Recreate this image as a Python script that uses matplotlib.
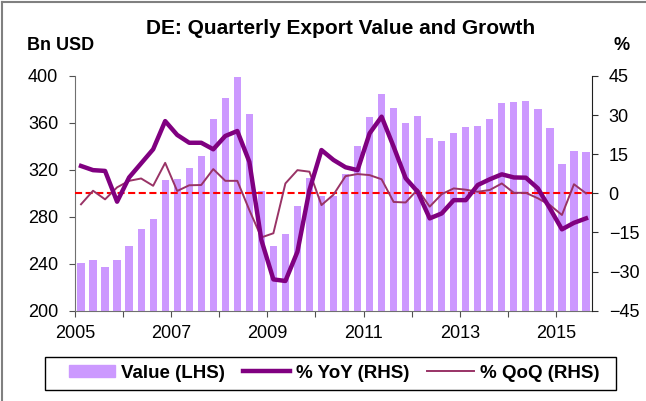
import matplotlib
matplotlib.use("Agg")
import matplotlib.pyplot as plt
import matplotlib.patches as mpatches
from matplotlib.lines import Line2D
import numpy as np

plt.rcParams['font.family'] = ['Liberation Sans', 'DejaVu Sans']

# quarterly data, 2005Q1 .. 2015Q3
value = [241, 243, 237, 243.5, 255.5, 270, 278, 311, 312.5, 322, 332, 363.5,
         381, 399, 367.5, 302, 255.5, 265.5, 289.5, 313, 298, 298, 316.5, 340.5,
         365, 384.5, 372.5, 360, 366, 347, 345, 351.5, 356.5, 357.5, 363.5, 377,
         378, 379, 371.5, 356, 325, 336.5, 335.5]
yoy = [10.5, 8.9, 8.6, -3.2, 6.1, 11.5, 16.9, 27.7, 22.4, 19.4, 19.4, 16.9,
       22.0, 23.9, 12.1, -17.9, -33.0, -33.6, -22.4, 1.3, 16.6, 12.8, 10.0, 8.9,
       23.0, 29.4, 17.9, 5.8, 0.6, -9.6, -7.7, -2.6, -2.6, 3.2, 5.4, 7.3,
       6.1, 6.0, 1.9, -5.8, -13.8, -11.3, -9.6]
qoq = [-4.2, 1.0, -2.3, 2.3, 4.8, 5.7, 2.9, 11.7, 0.9, 3.1, 3.2, 9.3,
       4.8, 4.8, -6.4, -16.9, -15.3, 3.8, 8.9, 8.3, -4.5, -0.5, 6.6, 7.4,
       7.0, 5.4, -3.3, -3.5, 1.5, -5.1, -0.3, 1.9, 1.4, 0.6, 1.3, 3.8,
       0.2, 0.2, -1.9, -4.5, -8.3, 3.5, 0.0]
year_labels = ['2005', '2007', '2009', '2011', '2013', '2015']

W, H = 646, 401
x = np.arange(len(value))

fig = plt.figure(figsize=(W / 100, H / 100), dpi=100)
ax = fig.add_axes([75 / W, 1 - 310.7 / H, (592 - 75) / W, (310.7 - 76) / H])

ax.bar(x, value, width=0.6, color='#CC99FF', zorder=2)
ax.set_ylim(200, 400)
ax.set_yticks(np.arange(200, 401, 40))
ax.set_xlim(-0.5, len(value) - 0.5)

# ticks on year boundaries, labels every second year
ax.set_xticks(np.arange(-0.5, len(value), 4))
ax.set_xticklabels([year_labels[i // 2] if i % 2 == 0 else '' for i in range(11)])
ax.tick_params(axis='x', length=4, direction='out', color='#505050',
               pad=6, labelsize=13)
ax.tick_params(axis='y', length=4, direction='out', labelsize=13,
               color='#505050', pad=8)

for s in ['left', 'bottom']:
    ax.spines[s].set_color('#707070')
ax.spines['top'].set_visible(False)
ax.spines['right'].set_visible(False)

ax2 = ax.twinx()
ax2.set_ylim(-45, 45)
ax2.set_yticks(np.arange(-45, 46, 15))
ax2.tick_params(axis='y', length=4, direction='out', labelsize=13,
                color='#303030', pad=8)
ax2.spines['top'].set_visible(False)
ax2.spines['left'].set_visible(False)
ax2.spines['bottom'].set_visible(False)
ax2.spines['right'].set_color('#202020')

ax2.axhline(0, color='#FF0000', lw=1.5, ls=(0, (3.4, 1.7)), zorder=3)
ax2.plot(x, qoq, color='#993366', lw=1.4, zorder=4)
ax2.plot(x, yoy, color='#800080', lw=3.2, zorder=5, solid_joinstyle='round')

fig.text(341 / W, 1 - 28 / H, 'DE: Quarterly Export Value and Growth',
         ha='center', va='center', fontsize=15, fontweight='bold')
fig.text(61 / W, 1 - 46 / H, 'Bn USD', ha='center', va='center',
         fontsize=13, fontweight='bold')
fig.text(622 / W, 1 - 45 / H, '%', ha='center', va='center',
         fontsize=13, fontweight='bold')

handles = [mpatches.Patch(color='#CC99FF'),
           Line2D([], [], color='#800080', lw=3.2),
           Line2D([], [], color='#993366', lw=1.4)]
fig.legend(handles, ['Value (LHS)', '% YoY (RHS)', '% QoQ (RHS)'],
           loc='center', bbox_to_anchor=(334 / W, 1 - 373 / H),
           ncol=3, frameon=False, handlelength=2.5,
           handleheight=0.65, handletextpad=0.32, columnspacing=0.95,
           borderpad=0.2, prop={'weight': 'bold', 'size': 13.5})
# legend frame
fig.patches.append(mpatches.Rectangle((45.5 / W, 1 - 390 / H), (616 - 45.5) / W, 33 / H,
                                      transform=fig.transFigure, fill=False,
                                      edgecolor='black', lw=1.0))

# outer chart border (left and top edges visible)
fig.lines.append(Line2D([2 / W, 2 / W], [0, 1 - 1.5 / H], transform=fig.transFigure,
                        color='#808080', lw=1.5))
fig.lines.append(Line2D([2 / W, 1], [1 - 1.5 / H, 1 - 1.5 / H], transform=fig.transFigure,
                        color='#808080', lw=1.5))

fig.savefig('out.png', dpi=100)
